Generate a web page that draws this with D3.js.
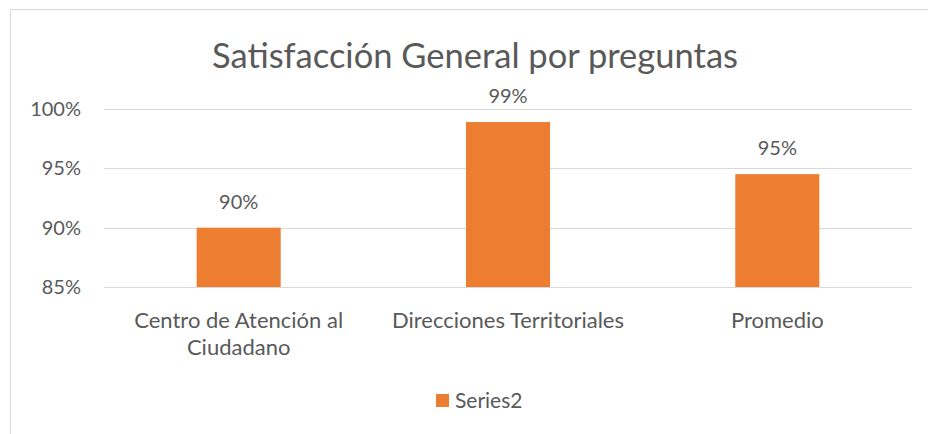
<!DOCTYPE html>
<html>
<head>
<meta charset="utf-8">
<script src="https://cdn.jsdelivr.net/npm/d3@7"></script>
<style>
  body { margin: 0; background: #fff; }
  text { font-family: Lato, "Noto Sans", sans-serif; fill: #595959; }
</style>
</head>
<body>
<div id="chart"></div>
<script>
// chart data
const categories = [["Centro de Atención al", "Ciudadano"], ["Direcciones Territoriales"], ["Promedio"]];
const values = [0.90, 0.989, 0.9451];
const tickValues = [0.85, 0.90, 0.95, 1.00];
const seriesName = "Series2";
const chartTitle = "Satisfacción General por preguntas";

const width = 928, height = 434;
const plotLeft = 104, plotRight = 912, plotTop = 109, plotBottom = 287;

let svg = d3.select("#chart").append("svg")
  .attr("width", width)
  .attr("height", height);

// outer chart border (chart runs past the right/bottom edge of the picture)
svg.append("rect")
  .attr("x", 10.5).attr("y", 9.5)
  .attr("width", 929).attr("height", 440)
  .attr("fill", "#fff")
  .attr("stroke", "#d9d9d9");

let x = d3.scaleBand()
  .domain(d3.range(categories.length))
  .range([plotLeft, plotRight])
  .paddingInner(0.688)
  .paddingOuter(0.344);

let y = d3.scaleLinear().domain([0.85, 1.0]).range([plotBottom, plotTop]);

let pct = d => Math.round(d * 100) + "%";

// gridlines
svg.append("g").selectAll("line")
  .data(tickValues)
  .enter().append("line")
  .attr("x1", plotLeft).attr("x2", plotRight)
  .attr("y1", d => Math.round(y(d)) + 0.5)
  .attr("y2", d => Math.round(y(d)) + 0.5)
  .attr("stroke", "#d9d9d9")
  .attr("stroke-width", 1);

// y tick labels
svg.append("g").selectAll("text")
  .data(tickValues)
  .enter().append("text")
  .attr("x", 81)
  .attr("y", d => y(d) + 7)
  .attr("text-anchor", "end")
  .style("font-size", "20px")
  .text(pct);

// bars
svg.append("g").selectAll("rect")
  .data(values)
  .enter().append("rect")
  .attr("x", (d, i) => x(i))
  .attr("width", x.bandwidth())
  .attr("y", d => y(d))
  .attr("height", d => plotBottom - y(d))
  .attr("fill", "#ed7d31");

// data labels
svg.append("g").selectAll("text")
  .data(values)
  .enter().append("text")
  .attr("x", (d, i) => x(i) + x.bandwidth() / 2)
  .attr("y", d => y(d) - 19)
  .attr("text-anchor", "middle")
  .style("font-size", "20px")
  .text(pct);

// category labels
let catLabels = svg.append("g").selectAll("text")
  .data(categories)
  .enter().append("text")
  .attr("text-anchor", "middle")
  .style("font-size", "22px");

catLabels.selectAll("tspan")
  .data((d, i) => d.map(line => ({ line: line, i: i })))
  .enter().append("tspan")
  .attr("x", d => x(d.i) + x.bandwidth() / 2)
  .attr("y", (d, j) => 328 + j * 27)
  .text(d => d.line);

// title
svg.append("text")
  .attr("x", 475)
  .attr("y", 68)
  .attr("text-anchor", "middle")
  .style("font-size", "34.5px")
  .text(chartTitle);

// legend
let legend = svg.append("g");
legend.append("rect")
  .attr("x", 436).attr("y", 394)
  .attr("width", 13).attr("height", 13)
  .attr("fill", "#ed7d31");
legend.append("text")
  .attr("x", 455)
  .attr("y", 408)
  .style("font-size", "21px")
  .text(seriesName);
</script>
</body>
</html>
